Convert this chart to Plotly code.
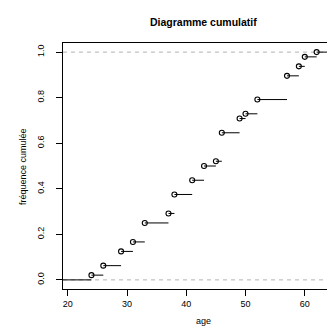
import numpy as np
import plotly.graph_objects as go

# Data: distinct ages and their frequencies (n = 48)
ages = [24, 26, 29, 31, 33, 37, 38, 41, 43, 45, 46, 49, 50, 52, 57, 59, 60, 62]
counts = [1, 2, 3, 2, 4, 2, 4, 3, 3, 1, 6, 3, 1, 3, 5, 2, 2, 1]
yticks = [0.0, 0.2, 0.4, 0.6, 0.8, 1.0]
xticks = [20, 30, 40, 50, 60]

title = "Diagramme cumulatif"
xlabel = "age"
ylabel = "fréquence cumulée"

cum = np.cumsum(counts) / np.sum(counts)

XMIN, XMAX = 19.2, 66.45
YMIN, YMAX = -0.04, 1.04

# step segments
sx, sy = [XMIN, ages[0], None], [0, 0, None]
for i, a in enumerate(ages):
    nxt = ages[i + 1] if i + 1 < len(ages) else XMAX
    sx += [a, nxt, None]
    sy += [cum[i], cum[i], None]

FONT = "Liberation Sans, Arial, Helvetica, sans-serif"

fig = go.Figure()
fig.add_trace(go.Scatter(x=sx, y=sy, mode="lines",
                         line=dict(color="black", width=1),
                         hoverinfo="skip", showlegend=False, cliponaxis=True))
fig.add_trace(go.Scatter(x=ages, y=cum, mode="markers",
                         marker=dict(symbol="circle-open", size=5, color="black",
                                     line=dict(width=1.1, color="black")),
                         showlegend=False, cliponaxis=False))

for yv in (0, 1):
    fig.add_shape(type="line", xref="paper", x0=0, x1=1, yref="y", y0=yv, y1=yv,
                  line=dict(color="#b3b3b3", width=1, dash="4px,4px"), layer="below")

fig.update_layout(
    width=335, height=328,
    margin=dict(l=55, r=0, t=35, b=47),
    paper_bgcolor="white", plot_bgcolor="white",
    font=dict(family=FONT, size=9, color="black"),
    xaxis=dict(range=[XMIN, XMAX], tickvals=xticks, ticktext=[str(v) for v in xticks],
               showgrid=False, zeroline=False, showline=True, mirror=True,
               linecolor="black", linewidth=1, ticks="outside", ticklen=6,
               tickcolor="black", tickfont=dict(size=9)),
    yaxis=dict(range=[YMIN, YMAX], tickvals=yticks, ticktext=[f"{v:.1f}" for v in yticks],
               showgrid=False, zeroline=False, showline=True, mirror=False,
               linecolor="black", linewidth=1, ticks="outside", ticklen=6,
               tickcolor="black", tickangle=-90, tickfont=dict(size=9),
               ticklabelstandoff=8),
    annotations=[
        dict(text="<b>" + title + "</b>", x=0.5025, y=1.087, xref="paper", yref="paper",
             showarrow=False, font=dict(size=10.5), xanchor="center", yanchor="middle"),
        dict(text=xlabel, x=0.5025, y=-0.13, xref="paper", yref="paper",
             showarrow=False, font=dict(size=9), xanchor="center", yanchor="middle"),
        dict(text=ylabel, x=-0.143, y=0.5, xref="paper", yref="paper", textangle=-90,
             showarrow=False, font=dict(size=9), xanchor="center", yanchor="middle"),
    ],
)

fig.write_html("out.html")
